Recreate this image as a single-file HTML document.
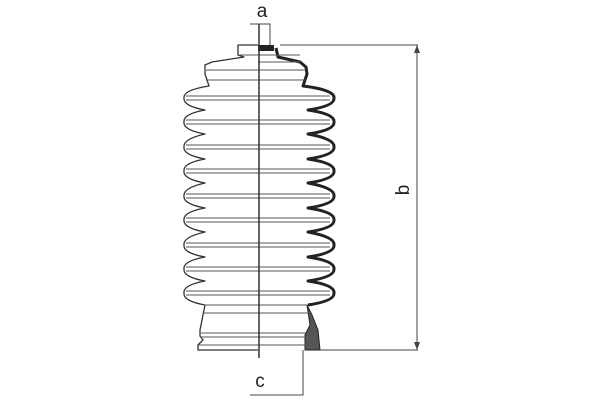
<!DOCTYPE html>
<html><head><style>html,body{margin:0;padding:0;background:#fff}svg{display:block}</style></head>
<body>
<svg width="600" height="400" viewBox="0 0 600 400" xmlns="http://www.w3.org/2000/svg" font-family="Liberation Sans, sans-serif">
<g fill="none" stroke="#333" stroke-width="1.3" stroke-linejoin="round">
<path d="M258,45 L238,45 L238,55 L244,57 L212,62 L205,65 L205,74 L209,86
Q183,90 184,98 Q183,106 205,110
Q183,114 184,122 Q183,130 205,134
Q183,139 184,147 Q183,155 205,159
Q183,163 184,171 Q183,179 205,183
Q183,188 184,196 Q183,204 205,208
Q183,212 184,220 Q183,228 205,232
Q183,237 184,245 Q183,253 205,257
Q183,261 184,269 Q183,277 205,281
Q183,285 184,293 Q183,301 205,305
L200,330 L200,336 L203,340 L198,345 L198,350 L258,350"/>
</g>
<g fill="none" stroke="#222" stroke-width="3" stroke-linejoin="round">
<path d="M276,48 L278,57 L300,62 L306,67 L307,74 L303,86
Q335,90 334,98 Q335,106 308,110
Q335,114 334,122 Q335,130 308,134
Q335,139 334,147 Q335,155 308,159
Q335,163 334,171 Q335,179 308,183
Q335,188 334,196 Q335,204 308,208
Q335,212 334,220 Q335,228 308,232
Q335,237 334,245 Q335,253 308,257
Q335,261 334,269 Q335,277 308,281
Q335,285 334,293 Q335,301 308,305"/>
</g>
<path d="M307,305 L312,315 L318,330 L320,350 L305,350 L305,335 L310,325 Z" fill="#555" stroke="#222"/>
<rect x="258" y="45" width="16" height="6" fill="#222"/>
<g stroke="#555" stroke-width="1">
<line x1="186" y1="96" x2="330" y2="96"/><line x1="186" y1="100" x2="330" y2="100"/>
<line x1="186" y1="120" x2="330" y2="120"/><line x1="186" y1="124" x2="330" y2="124"/>
<line x1="186" y1="145" x2="330" y2="145"/><line x1="186" y1="149" x2="330" y2="149"/>
<line x1="186" y1="169" x2="330" y2="169"/><line x1="186" y1="173" x2="330" y2="173"/>
<line x1="186" y1="194" x2="330" y2="194"/><line x1="186" y1="198" x2="330" y2="198"/>
<line x1="186" y1="218" x2="330" y2="218"/><line x1="186" y1="222" x2="330" y2="222"/>
<line x1="186" y1="243" x2="330" y2="243"/><line x1="186" y1="247" x2="330" y2="247"/>
<line x1="186" y1="267" x2="330" y2="267"/><line x1="186" y1="271" x2="330" y2="271"/>
<line x1="186" y1="291" x2="330" y2="291"/><line x1="186" y1="295" x2="330" y2="295"/>
<line x1="206" y1="70" x2="306" y2="70"/><line x1="206" y1="80" x2="305" y2="80"/>
<line x1="204" y1="305" x2="308" y2="305"/><line x1="203" y1="313" x2="310" y2="313"/>
<line x1="201" y1="333" x2="306" y2="333"/><line x1="200" y1="337" x2="306" y2="337"/>
<line x1="199" y1="345" x2="306" y2="345"/>
<line x1="240" y1="55" x2="300" y2="55"/><line x1="258" y1="62" x2="300" y2="62"/>
</g>
<line x1="259" y1="24" x2="259" y2="358" stroke="#333" stroke-width="1.5"/>
<g stroke="#444" stroke-width="1" fill="none">
<path d="M250,24 L270,24 L270,45"/>
<line x1="280" y1="45" x2="418" y2="45"/>
<line x1="320" y1="350" x2="418" y2="350"/>
<line x1="417" y1="45" x2="417" y2="350"/>
<path d="M303,350 L303,395 L250,395"/>
</g>
<path d="M417,45 L414,53 L420,53 Z M417,350 L414,342 L420,342 Z" fill="#444"/>
<text x="262" y="17" font-size="19" text-anchor="middle" fill="#222">a</text>
<text x="260" y="387" font-size="19" text-anchor="middle" fill="#222">c</text>
<text x="0" y="0" font-size="19" fill="#222" transform="translate(409,190) rotate(-90)" text-anchor="middle">b</text>
</svg>
</body></html>
